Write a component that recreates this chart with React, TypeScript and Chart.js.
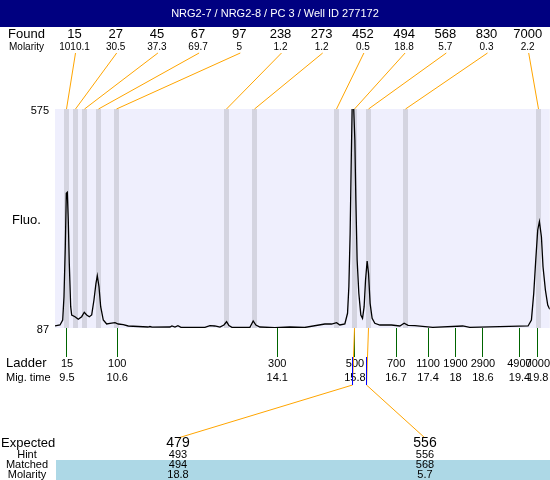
import React, { useEffect, useRef } from "react";
import { Chart, registerables } from "chart.js";

Chart.register(...registerables);

const titleText = "NRG2-7 / NRG2-8 / PC 3 / Well ID 277172";

const foundSizes = ["15", "27", "45", "67", "97", "238", "273", "452", "494", "568", "830", "7000"];
const foundMolarity = ["1010.1", "30.5", "37.3", "69.7", "5", "1.2", "1.2", "0.5", "18.8", "5.7", "0.3", "2.2"];
const foundTimes = [9.478, 9.675, 9.883, 10.178, 10.582, 12.988, 13.589, 15.393, 15.787, 16.093, 16.891, 19.8];

const ladderSizes = ["15", "100", "300", "500", "700", "1100", "1900", "2900", "4900", "7000"];
const ladderTimes = [9.5, 10.6, 14.1, 15.8, 16.7, 17.4, 18, 18.6, 19.4, 19.8];

const yTicks = [87, 575];

const traceTimes = [
  9.238, 9.347, 9.406, 9.434, 9.463, 9.485, 9.507, 9.528, 9.55, 9.581,
  9.603, 9.675, 9.747, 9.821, 9.878, 9.931, 9.988, 10.04, 10.09, 10.134,
  10.163, 10.2, 10.237, 10.294, 10.368, 10.44, 10.55, 10.622, 10.731, 10.84,
  11.271, 11.315, 11.36, 11.752, 11.796, 11.862, 11.927, 11.993, 12.518, 12.627,
  12.736, 12.846, 12.933, 12.992, 13.043, 13.108, 13.502, 13.574, 13.633, 13.72,
  14.048, 14.376, 14.7, 15.142, 15.288, 15.398, 15.47, 15.579, 15.638, 15.667,
  15.695, 15.717, 15.739, 15.752, 15.768, 15.798, 15.82, 15.848, 15.885, 15.929,
  15.966, 16.001, 16.032, 16.067, 16.097, 16.132, 16.176, 16.235, 16.345, 16.6,
  16.782, 16.876, 16.963, 17.11, 17.503, 18.159, 18.312, 18.969, 19.588, 19.661,
  19.712, 19.756, 19.799, 19.836, 19.88, 19.915, 19.967, 20.018, 20.062,
];
const traceFluo = [
  91.5, 93.7, 104.8, 156.7, 268.2, 387.1, 389.4, 327.7, 231.8, 134.5,
  116.0, 112.2, 106.4, 112.2, 122.0, 116.0, 112.2, 116.0, 149.4, 186.6,
  203.5, 179.0, 134.5, 104.8, 95.9, 97.5, 98.8, 95.9, 94.4, 91.5,
  89.2, 90.3, 88.8, 89.2, 91.5, 89.2, 92.1, 88.6, 88.6, 92.1,
  91.5, 89.2, 93.7, 101.0, 92.6, 88.6, 88.6, 102.6, 93.7, 89.2,
  87.7, 89.2, 88.1, 95.9, 95.9, 98.8, 93.7, 95.9, 119.8, 179.0,
  298.0, 446.4, 580, 650, 590, 506, 372.2, 238.5, 164.3, 116.0,
  108.6, 134.5, 194.0, 236.3, 208.9, 142.0, 108.6, 97.5, 93.7, 93.7,
  91.5, 97.5, 93.0, 92.1, 88.6, 91.5, 88.6, 89.9, 91.5, 104.8,
  164.3, 238.5, 305.4, 323.9, 290.4, 223.6, 171.7, 138.3, 128.7,
];

const expectedSizes = ["479", "556"];
const hintSizes = ["493", "556"];
const matchedSizes = ["494", "568"];
const matchedMolarity = ["18.8", "5.7"];
const matchedTimes = [15.787, 16.093];
const expectedTimes = [15.74, 16.045];

const FONT = '"Liberation Sans", Arial, sans-serif';

function txt(ctx: CanvasRenderingContext2D, s: string, x: number, y: number, size: number, align: CanvasTextAlign = "center", color = "#000") {
  ctx.font = `${size}px ${FONT}`;
  ctx.fillStyle = color;
  ctx.textAlign = align;
  ctx.textBaseline = "middle";
  ctx.fillText(s, x, y);
}

function line(ctx: CanvasRenderingContext2D, pts: number[][], color: string, w = 1) {
  ctx.beginPath();
  ctx.strokeStyle = color;
  ctx.lineWidth = w;
  pts.forEach((p, i) => (i === 0 ? ctx.moveTo(p[0], p[1]) : ctx.lineTo(p[0], p[1])));
  ctx.stroke();
}

const decorPlugin = {
  id: "decor",
  beforeDraw(chart: any) {
    const ctx = chart.ctx as CanvasRenderingContext2D;
    const a = chart.chartArea;
    ctx.save();
    ctx.fillStyle = "#ffffff";
    ctx.fillRect(0, 0, chart.width, chart.height);
    ctx.fillStyle = "#000080";
    ctx.fillRect(0, 0, chart.width, 27);
    ctx.fillStyle = "#efeffd";
    ctx.fillRect(a.left, a.top, a.right - a.left, a.bottom - a.top);
    ctx.fillStyle = "#add8e6";
    ctx.fillRect(56, 460, chart.width - 56, 20);
    ctx.restore();
  },
  beforeDatasetsDraw(chart: any) {
    const ctx = chart.ctx as CanvasRenderingContext2D;
    const a = chart.chartArea;
    const xs = chart.scales.x;
    ctx.save();
    ctx.fillStyle = "#d4d4e0";
    foundTimes.forEach((t) => {
      const px = Math.round(xs.getPixelForValue(t));
      ctx.fillRect(px - 2, a.top, 5, a.bottom - a.top);
    });
    ctx.restore();
  },
  afterDraw(chart: any) {
    const ctx = chart.ctx as CanvasRenderingContext2D;
    const a = chart.chartArea;
    const xs = chart.scales.x;
    ctx.save();
    txt(ctx, titleText, 275, 14, 11, "center", "#ffffff");
    txt(ctx, "Found", 8, 34, 13, "left");
    txt(ctx, "Molarity", 9, 47, 10, "left");
    foundSizes.forEach((s, i) => {
      const cx = 74.5 + 41.2 * i;
      txt(ctx, s, cx, 34, 13);
      txt(ctx, foundMolarity[i], cx, 47, 10);
      const bx = Math.round(xs.getPixelForValue(foundTimes[i])) + 0.5;
      line(ctx, [[cx + 1, 53], [bx, a.top]], "#ffa500");
    });
    txt(ctx, "Fluo.", 12, 220, 13, "left");
    txt(ctx, "Ladder", 6, 363, 13, "left");
    txt(ctx, "Mig. time", 6, 378, 11, "left");

    const labelX = [178, 425];
    expectedSizes.forEach((s, i) => {
      const mx = Math.round(xs.getPixelForValue(matchedTimes[i])) + 0.5;
      const ex = Math.round(xs.getPixelForValue(expectedTimes[i])) + 0.5;
      line(ctx, [[mx, a.bottom], [ex, 385], [labelX[i], 438]], "#ffa500");
      line(ctx, [[ex, 357], [ex, 385]], "#0000ff");
      txt(ctx, s, labelX[i], 443, 14);
      txt(ctx, hintSizes[i], labelX[i], 455, 11);
      txt(ctx, matchedSizes[i], labelX[i], 465, 11);
      txt(ctx, matchedMolarity[i], labelX[i], 474.5, 11);
    });
    txt(ctx, "Expected", 1, 443, 13, "left");
    txt(ctx, "Hint", 27, 455, 11);
    txt(ctx, "Matched", 27, 465, 11);
    txt(ctx, "Molarity", 27, 474.5, 11);
    ctx.restore();
  },
};

export default function App() {
  const ref = useRef<HTMLCanvasElement>(null);
  useEffect(() => {
    document.body.style.margin = "0";
    const canvas = ref.current!;
    const chart = new Chart(canvas, {
      type: "line",
      data: {
        datasets: [
          {
            data: traceTimes.map((t, i) => ({ x: t, y: traceFluo[i] })),
            borderColor: "#000000",
            borderWidth: 1.3,
            pointRadius: 0,
            tension: 0,
            fill: false,
          },
        ],
      },
      options: {
        responsive: false,
        animation: false,
        events: [],
        layout: { padding: { top: 109, left: 0, right: 0, bottom: 0 } },
        plugins: { legend: { display: false }, tooltip: { enabled: false }, title: { display: false } },
        scales: {
          x: {
            type: "linear",
            min: 9.2376,
            max: 20.062,
            afterBuildTicks: (scale: any) => {
              scale.ticks = ladderTimes.map((v) => ({ value: v }));
            },
            afterFit: (scale: any) => {
              scale.height = 152;
            },
            grid: { drawOnChartArea: false, drawTicks: true, tickLength: 29, tickColor: "#006400", tickWidth: 1 },
            border: { display: false },
            ticks: {
              autoSkip: false,
              maxRotation: 0,
              minRotation: 0,
              padding: 0,
              color: "#000",
              font: { family: FONT, size: 11, lineHeight: 1.3 },
              callback: (_v: any, i: number) => [ladderSizes[i], String(ladderTimes[i])],
            },
          },
          y: {
            type: "linear",
            min: 87,
            max: 575,
            afterBuildTicks: (scale: any) => {
              scale.ticks = yTicks.map((v) => ({ value: v }));
            },
            afterFit: (scale: any) => {
              scale.width = 55;
            },
            grid: { drawOnChartArea: false, drawTicks: false },
            border: { display: false },
            ticks: {
              padding: 6,
              labelOffset: 2,
              color: "#000",
              font: { family: FONT, size: 11 },
              callback: (v: any) => String(v),
            },
          },
        },
      },
      plugins: [decorPlugin],
    } as any);
    return () => chart.destroy();
  }, []);
  return (
    <div style={{ width: 550, height: 480 }}>
      <canvas ref={ref} width={550} height={480} style={{ display: "block" }} />
    </div>
  );
}
